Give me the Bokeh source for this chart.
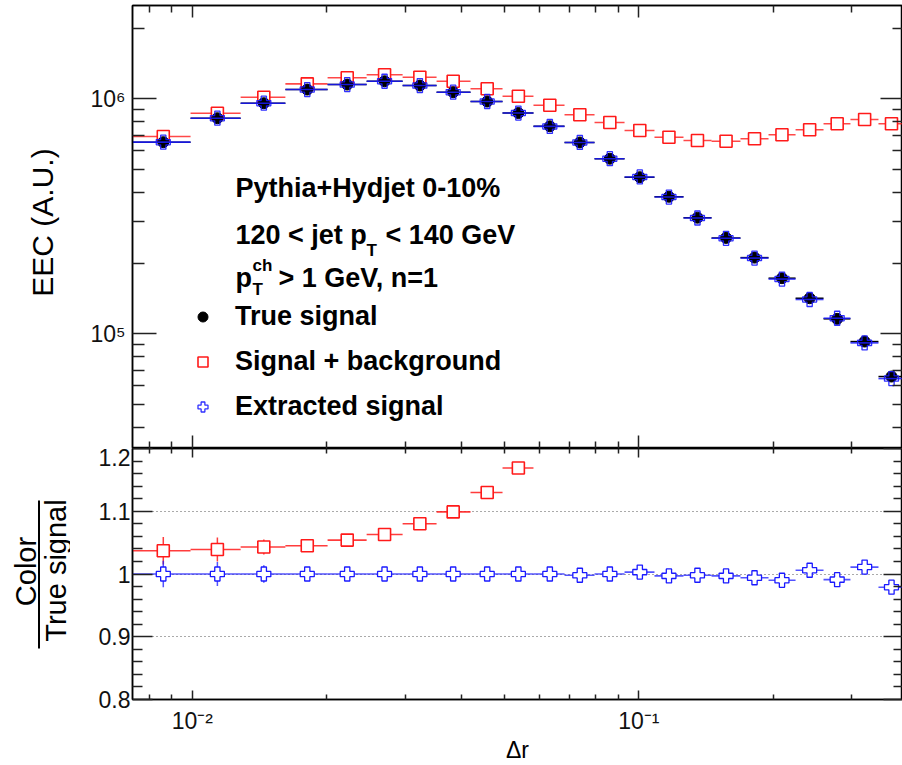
import math
from bokeh.plotting import figure
from bokeh.models import (ColumnDataSource, Range1d, FixedTicker, LogAxis, LinearAxis,
                          CustomJSTickFormatter, Label, Legend, LegendItem, BoxAnnotation)
from bokeh.layouts import column, row
from bokeh.embed import file_html
from bokeh.resources import INLINE

# ---------------- data ----------------
bin_edges = [0.00735, 0.00991, 0.01283, 0.01616, 0.02009, 0.02457, 0.02958, 0.03524,
             0.04198, 0.04952, 0.05808, 0.06817, 0.07958, 0.09290, 0.1084, 0.1259,
             0.1455, 0.1689, 0.1952, 0.2244, 0.2592, 0.2978, 0.3441, 0.3956]
delta_r = [0.00861, 0.01138, 0.01446, 0.01809, 0.02223, 0.02695, 0.03233, 0.03839,
           0.04575, 0.05373, 0.06319, 0.07377, 0.08611, 0.1005, 0.1168, 0.1353,
           0.1568, 0.1816, 0.2092, 0.2413, 0.2781, 0.3204, 0.3680]
true_signal = [6.54e5, 8.27e5, 9.58e5, 1.095e6, 1.150e6, 1.188e6, 1.139e6, 1.067e6,
               9.74e5, 8.70e5, 7.64e5, 6.52e5, 5.56e5, 4.64e5, 3.83e5, 3.12e5,
               2.56e5, 2.11e5, 1.725e5, 1.417e5, 1.158e5, 9.27e4, 6.58e4]
signal_plus_bkg = [6.91e5, 8.68e5, 1.016e6, 1.158e6, 1.229e6, 1.265e6, 1.236e6, 1.188e6,
                   1.103e6, 1.025e6, 9.39e5, 8.55e5, 7.93e5, 7.33e5, 6.86e5, 6.65e5,
                   6.60e5, 6.76e5, 7.03e5, 7.38e5, 7.83e5, 8.17e5, 7.83e5]
extracted_signal = [6.54e5, 8.27e5, 9.58e5, 1.095e6, 1.150e6, 1.188e6, 1.139e6, 1.067e6,
                    9.74e5, 8.70e5, 7.63e5, 6.52e5, 5.56e5, 4.65e5, 3.82e5, 3.11e5,
                    2.55e5, 2.10e5, 1.71e5, 1.40e5, 1.165e5, 9.15e4, 6.45e4]
# ratio panel: signal+background / true (only the bins inside 0.8-1.2 are visible)
ratio_sb = [1.037, 1.039, 1.043, 1.045, 1.054, 1.063, 1.080, 1.099, 1.130, 1.169]
ratio_sb_err = [0.022, 0.019, 0.012, 0.010, 0.008, 0.006, 0.005, 0.004, 0.004, 0.004]
ratio_ext = [1.000, 1.000, 1.000, 1.000, 1.000, 1.000, 1.000, 1.000, 1.000, 1.000,
             1.000, 0.998, 1.000, 1.003, 0.997, 0.998, 0.997, 0.994, 0.990, 1.006,
             0.991, 1.011, 0.979]
ratio_ext_err = [0.021, 0.019, 0.014, 0.010, 0.007, 0.006, 0.005, 0.004, 0.004, 0.003,
                 0.003, 0.003, 0.003, 0.003, 0.003, 0.003, 0.003, 0.003, 0.003, 0.003,
                 0.003, 0.003, 0.004]

legend_labels = ["True signal", "Signal + background", "Extracted signal"]
header_line = "Pythia+Hydjet 0-10%"

x_major = [1e-3, 1e-2, 1e-1, 1.0]
x_minor = [m * 10.0 ** e for e in (-3, -2, -1) for m in range(2, 10)]
y_major = [1e4, 1e5, 1e6, 1e7]
y_minor = [m * 10.0 ** e for e in (4, 5, 6) for m in range(2, 10)]
r_major = [0.8, 0.9, 1.0, 1.1, 1.2]
r_minor = [round(0.8 + 0.02 * i, 2) for i in range(21) if i % 5]

FONT = "Liberation Sans"
RED = "#ff1a1a"
BLUE = "#1a1aff"
SIDE_W = 70          # width of the strip that holds the rotated axis titles

LOGFMT = ("const e = Math.round(Math.log10(tick));"
          "const m = {'-':'\\u207B','0':'\\u2070','1':'\\u00B9','2':'\\u00B2','3':'\\u00B3',"
          "'4':'\\u2074','5':'\\u2075','6':'\\u2076','7':'\\u2077','8':'\\u2078','9':'\\u2079'};"
          "return '10' + String(e).split('').map(c => m[c]).join('');")
RATIOFMT = "return String(Math.round(tick*10)/10);"
EMPTYFMT = "return '';"


def setup(ax, major, minor, major_in, minor_in, code, fs="23px", standoff=0):
    ax.ticker = FixedTicker(ticks=major, minor_ticks=minor)
    ax.formatter = CustomJSTickFormatter(code=code)
    ax.major_tick_in = major_in
    ax.major_tick_out = 0
    ax.minor_tick_in = minor_in
    ax.minor_tick_out = 0
    ax.major_tick_line_color = "#222222"
    ax.minor_tick_line_color = "#222222"
    ax.major_tick_line_width = 1.5
    ax.minor_tick_line_width = 1.5
    ax.axis_line_color = "black"
    ax.axis_line_width = 1.5
    ax.major_label_text_font = FONT
    ax.major_label_text_font_size = fs
    ax.major_label_text_color = "#111111"
    ax.major_label_standoff = standoff


def page_label(px, py, **kw):
    # label positioned in page pixels inside the top panel's canvas
    return Label(x=px - SIDE_W, y=py, x_units="canvas", y_units="canvas", **kw)


xr = Range1d(0.007346, 0.3895)

# ---------------- side strip with the rotated axis titles ----------------
side = figure(width=SIDE_W, height=765, x_range=Range1d(0, SIDE_W), y_range=Range1d(765, 0),
              x_axis_location=None, y_axis_location=None, min_border=0, title=None,
              output_backend="svg", toolbar_location=None)
side.grid.visible = False
side.outline_line_color = None
rot = dict(text_font=FONT, text_color="black", text_align="center", text_baseline="middle",
           angle=math.pi / 2)
side.add_layout(Label(x=42, y=222, text="EEC (A.U.)", text_font_size="30px", **rot))
side.add_layout(Label(x=25, y=571, text="Color", text_font_size="29px", **rot))
side.add_layout(Label(x=55, y=570, text="True signal", text_font_size="29px", **rot))
side.add_layout(BoxAnnotation(left=37.5, right=39.5, top=500, bottom=648,
                              fill_color="black", fill_alpha=1.0, line_color=None))

# ---------------- top panel ----------------
p1 = figure(width=902 - SIDE_W, height=448, x_axis_type="log", y_axis_type="log",
            x_range=xr, y_range=Range1d(32510, 2.495e6),
            output_backend="svg", toolbar_location=None,
            min_border_left=132 - SIDE_W, min_border_right=0, min_border_top=5,
            min_border_bottom=0)
p1.outline_line_color = "black"
p1.outline_line_width = 1.5
p1.grid.visible = False

setup(p1.xaxis[0], x_major, x_minor, 13, 7, EMPTYFMT, fs="0px")
setup(p1.yaxis[0], y_major, y_minor, 24, 12, LOGFMT, fs="23px", standoff=7)
ax_top = LogAxis()
setup(ax_top, x_major, x_minor, 12, 7, EMPTYFMT, fs="0px")
p1.add_layout(ax_top, "above")
ax_right = LogAxis()
setup(ax_right, y_major, y_minor, 22, 10, EMPTYFMT, fs="0px")
p1.add_layout(ax_right, "right")

src = ColumnDataSource(dict(x=delta_r, lo=bin_edges[:-1], hi=bin_edges[1:],
                            true=true_signal, sb=signal_plus_bkg, ext=extracted_signal))

p1.segment(x0="lo", x1="hi", y0="sb", y1="sb", source=src, line_color=RED,
           line_width=1.6, line_alpha=0.8)
r_sb = p1.scatter("x", "sb", source=src, marker="square", size=12, fill_color="white",
                  line_color=RED, line_width=1.6)
p1.segment(x0="lo", x1="hi", y0="true", y1="true", source=src, line_color="black",
           line_width=1.5)
r_true = p1.scatter("x", "true", source=src, marker="circle", size=11,
                    fill_color="black", line_color="black")
p1.segment(x0="lo", x1="hi", y0="ext", y1="ext", source=src, line_color=BLUE,
           line_width=1.6, line_alpha=0.85)
r_ext = p1.scatter("x", "ext", source=src, marker="plus", size=14, fill_color=None,
                   line_color=BLUE, line_width=1.3, line_alpha=0.9)

legend = Legend(items=[LegendItem(label=legend_labels[0], renderers=[r_true]),
                       LegendItem(label=legend_labels[1], renderers=[r_sb]),
                       LegendItem(label=legend_labels[2], renderers=[r_ext])],
                location=(58, 26), border_line_color=None, background_fill_alpha=0,
                padding=0, margin=0, spacing=14, glyph_width=25, glyph_height=25,
                label_standoff=20, label_text_font=FONT, label_text_font_style="bold",
                label_text_font_size="27px", label_text_color="black")
p1.add_layout(legend)

bold = dict(text_font=FONT, text_font_style="bold", text_color="black",
            text_baseline="alphabetic")
p1.add_layout(page_label(235, 187, text=header_line, text_font_size="27px", **bold))
p1.add_layout(page_label(235, 234, text="120 < jet p", text_font_size="27px", **bold))
p1.add_layout(page_label(366, 250, text="T", text_font_size="17px", **bold))
p1.add_layout(page_label(385, 234, text="< 140 GeV", text_font_size="27px", **bold))
p1.add_layout(page_label(235, 277, text="p", text_font_size="27px", **bold))
p1.add_layout(page_label(252, 265, text="ch", text_font_size="17px", **bold))
p1.add_layout(page_label(252, 289, text="T", text_font_size="17px", **bold))
p1.add_layout(page_label(278, 277, text="> 1 GeV, n=1", text_font_size="27px", **bold))

# ---------------- ratio panel ----------------
p2 = figure(width=902 - SIDE_W, height=317, x_axis_type="log", x_range=xr,
            y_range=Range1d(0.8, 1.2), output_backend="svg", toolbar_location=None,
            min_border_left=132 - SIDE_W, min_border_right=0, min_border_top=0,
            min_border_bottom=66)
p2.outline_line_color = "black"
p2.outline_line_width = 1.5
p2.xgrid.visible = False
p2.ygrid.ticker = FixedTicker(ticks=[0.9, 1.0, 1.1])
p2.ygrid.grid_line_color = "#555555"
p2.ygrid.grid_line_dash = "1 3"
p2.ygrid.grid_line_width = 1.2

setup(p2.xaxis[0], x_major, x_minor, 9, 5, LOGFMT, fs="23px", standoff=8)
p2.xaxis[0].axis_label = "\u0394r"
p2.xaxis[0].axis_label_text_font = FONT
p2.xaxis[0].axis_label_text_font_style = "normal"
p2.xaxis[0].axis_label_text_font_size = "23px"
p2.xaxis[0].axis_label_text_color = "black"
p2.xaxis[0].axis_label_standoff = 0
setup(p2.yaxis[0], r_major, r_minor, 20, 10, RATIOFMT, fs="23px", standoff=2)
ax2_top = LogAxis()
setup(ax2_top, x_major, x_minor, 9, 5, EMPTYFMT, fs="0px")
p2.add_layout(ax2_top, "above")
ax2_right = LinearAxis()
setup(ax2_right, r_major, r_minor, 19, 9, EMPTYFMT, fs="0px")
p2.add_layout(ax2_right, "right")

n_sb = len(ratio_sb)
src_sb = ColumnDataSource(dict(x=delta_r[:n_sb], lo=bin_edges[:n_sb], hi=bin_edges[1:n_sb + 1],
                               r=ratio_sb,
                               rlo=[r - e for r, e in zip(ratio_sb, ratio_sb_err)],
                               rhi=[r + e for r, e in zip(ratio_sb, ratio_sb_err)]))
src_ext = ColumnDataSource(dict(x=delta_r, lo=bin_edges[:-1], hi=bin_edges[1:], r=ratio_ext,
                                rlo=[r - e for r, e in zip(ratio_ext, ratio_ext_err)],
                                rhi=[r + e for r, e in zip(ratio_ext, ratio_ext_err)]))

p2.segment(x0="lo", x1="hi", y0="r", y1="r", source=src_sb, line_color=RED,
           line_width=1.6, line_alpha=0.85)
p2.segment(x0="x", x1="x", y0="rlo", y1="rhi", source=src_sb, line_color=RED,
           line_width=1.5, line_alpha=0.85)
p2.scatter("x", "r", source=src_sb, marker="square", size=12, fill_color="white",
           line_color=RED, line_width=1.6)
p2.segment(x0="lo", x1="hi", y0="r", y1="r", source=src_ext, line_color=BLUE,
           line_width=1.6, line_alpha=0.75)
p2.segment(x0="x", x1="x", y0="rlo", y1="rhi", source=src_ext, line_color=BLUE,
           line_width=1.5, line_alpha=0.75)
p2.scatter("x", "r", source=src_ext, marker="plus", size=14, fill_color="white",
           line_color=BLUE, line_width=1.3)

layout = row(side, column(p1, p2, spacing=0), spacing=0)
open("out.html", "w", encoding="utf-8").write(file_html(layout, INLINE))
